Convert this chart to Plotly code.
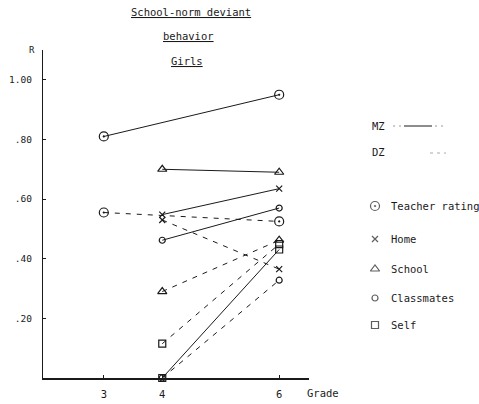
import plotly.graph_objects as go

W, H = 479, 404

# ---- data ----
grades_teacher = [3, 6]
grades_other = [4, 6]
teacher_mz = [0.81, 0.95]
teacher_dz = [0.555, 0.525]
home_mz = [0.548, 0.635]
home_dz = [0.53, 0.365]
school_mz = [0.70, 0.69]
school_dz = [0.29, 0.462]
class_mz = [0.462, 0.57]
class_dz = [0.0, 0.328]
self_mz = [0.0, 0.431]
self_dz = [0.115, 0.449]

x_ticks = [3, 4, 6]
x_ticktext = ["3", "4", "6"]
y_ticks = [0.2, 0.4, 0.6, 0.8, 1.0]
y_ticktext = [".20", ".40", ".60", ".80", "1.00"]

measures = ["Teacher rating", "Home", "School", "Classmates", "Self"]
symbols = ["circle-open-dot", "x-thin-open", "triangle-up-open", "circle-open", "square-open"]
sizes = [9, 6, 8, 6, 7]

series = [
    (grades_teacher, teacher_mz, teacher_dz),
    (grades_other, home_mz, home_dz),
    (grades_other, school_mz, school_dz),
    (grades_other, class_mz, class_dz),
    (grades_other, self_mz, self_dz),
]

INK = "#1a1a1a"
FONT = "DejaVu Sans Mono"
FS = 10.5

fig = go.Figure()

for (gx, mz, dz), sym, sz, name in zip(series, symbols, sizes, measures):
    for vals, dash in ((mz, "solid"), (dz, "5px,6px")):
        fig.add_trace(go.Scatter(
            x=gx, y=vals, mode="lines+markers", name=name,
            line=dict(color=INK, width=1, dash=dash),
            marker=dict(symbol=sym, size=sz, color=INK,
                        line=dict(color=INK, width=1.2)),
            cliponaxis=False, showlegend=False, hoverinfo="skip",
        ))

# legend markers on a pixel overlay axis
leg_y = [206, 239, 269, 298, 325]
fig.add_trace(go.Scatter(
    x=[375] * 5, y=leg_y, mode="markers", xaxis="x2", yaxis="y2",
    marker=dict(symbol=symbols, size=sizes, color=INK,
                line=dict(color=INK, width=1.2)),
    showlegend=False, hoverinfo="skip", cliponaxis=False,
))

annotations = []
for yy, name in zip(leg_y, measures):
    annotations.append(dict(x=389, y=yy, xref="x2", yref="y2", text=name,
                            showarrow=False, xanchor="left", yanchor="middle",
                            font=dict(family=FONT, size=FS, color=INK)))
annotations += [
    dict(x=370, y=126, xref="x2", yref="y2", text="MZ", showarrow=False,
         xanchor="left", yanchor="middle", font=dict(family=FONT, size=FS, color=INK)),
    dict(x=370, y=152, xref="x2", yref="y2", text="DZ", showarrow=False,
         xanchor="left", yanchor="middle", font=dict(family=FONT, size=FS, color=INK)),
    dict(x=191, y=12, xref="x2", yref="y2", text="<u>School-norm deviant</u>", showarrow=False,
         xanchor="center", yanchor="middle", font=dict(family=FONT, size=FS, color=INK)),
    dict(x=188, y=36, xref="x2", yref="y2", text="<u>behavior</u>", showarrow=False,
         xanchor="center", yanchor="middle", font=dict(family=FONT, size=FS, color=INK)),
    dict(x=187, y=61, xref="x2", yref="y2", text="<u>Girls</u>", showarrow=False,
         xanchor="center", yanchor="middle", font=dict(family=FONT, size=FS, color=INK)),
    dict(x=32, y=50, xref="x2", yref="y2", text="R", showarrow=False,
         xanchor="center", yanchor="middle", font=dict(family=FONT, size=9, color=INK)),
    dict(x=305, y=393, xref="x2", yref="y2", text="Grade", showarrow=False,
         xanchor="left", yanchor="middle", font=dict(family=FONT, size=FS, color=INK)),
]

shapes = [
    dict(type="line", xref="x2", yref="y2", x0=404, x1=432, y0=126, y1=126,
         line=dict(color=INK, width=1)),
    dict(type="line", xref="x2", yref="y2", x0=393, x1=401, y0=126, y1=126,
         line=dict(color="#999", width=1, dash="2px,4px")),
    dict(type="line", xref="x2", yref="y2", x0=435, x1=445, y0=126, y1=126,
         line=dict(color="#999", width=1, dash="2px,4px")),
    dict(type="line", xref="x2", yref="y2", x0=430, x1=446, y0=153, y1=153,
         line=dict(color="#aaa", width=1, dash="3px,4px")),
]

fig.update_layout(
    width=W, height=H,
    margin=dict(l=0, r=0, t=0, b=0),
    template="none",
    paper_bgcolor="white", plot_bgcolor="rgba(0,0,0,0)",
    showlegend=False,
    font=dict(family=FONT, size=FS, color=INK),
    xaxis=dict(domain=[43 / W, 309 / W], range=[1.96, 6.51],
               tickvals=x_ticks, ticktext=x_ticktext,
               ticks="inside", ticklen=3, tickcolor=INK,
               showline=True, linecolor=INK, linewidth=1.5,
               showgrid=False, zeroline=False, automargin=False,
               ticklabelstandoff=6,
               tickfont=dict(family=FONT, size=FS, color=INK)),
    yaxis=dict(domain=[26 / H, 354 / H], range=[0, 1.1],
               tickvals=y_ticks, ticktext=y_ticktext,
               ticks="inside", ticklen=3, tickcolor=INK,
               showline=True, linecolor=INK, linewidth=1.2,
               showgrid=False, zeroline=False, automargin=False,
               ticklabelstandoff=8,
               tickfont=dict(family=FONT, size=9.5, color=INK)),
    xaxis2=dict(domain=[0, 1], range=[0, W], visible=False, fixedrange=True),
    yaxis2=dict(domain=[0, 1], range=[H, 0], visible=False, fixedrange=True,
                anchor="x2"),
    annotations=annotations,
    shapes=shapes,
)
fig.data[-1].update(xaxis="x2", yaxis="y2")

fig.write_html("out.html", config={"displayModeBar": False},
               post_script="document.body.style.margin='0';document.body.style.overflow='hidden';")
